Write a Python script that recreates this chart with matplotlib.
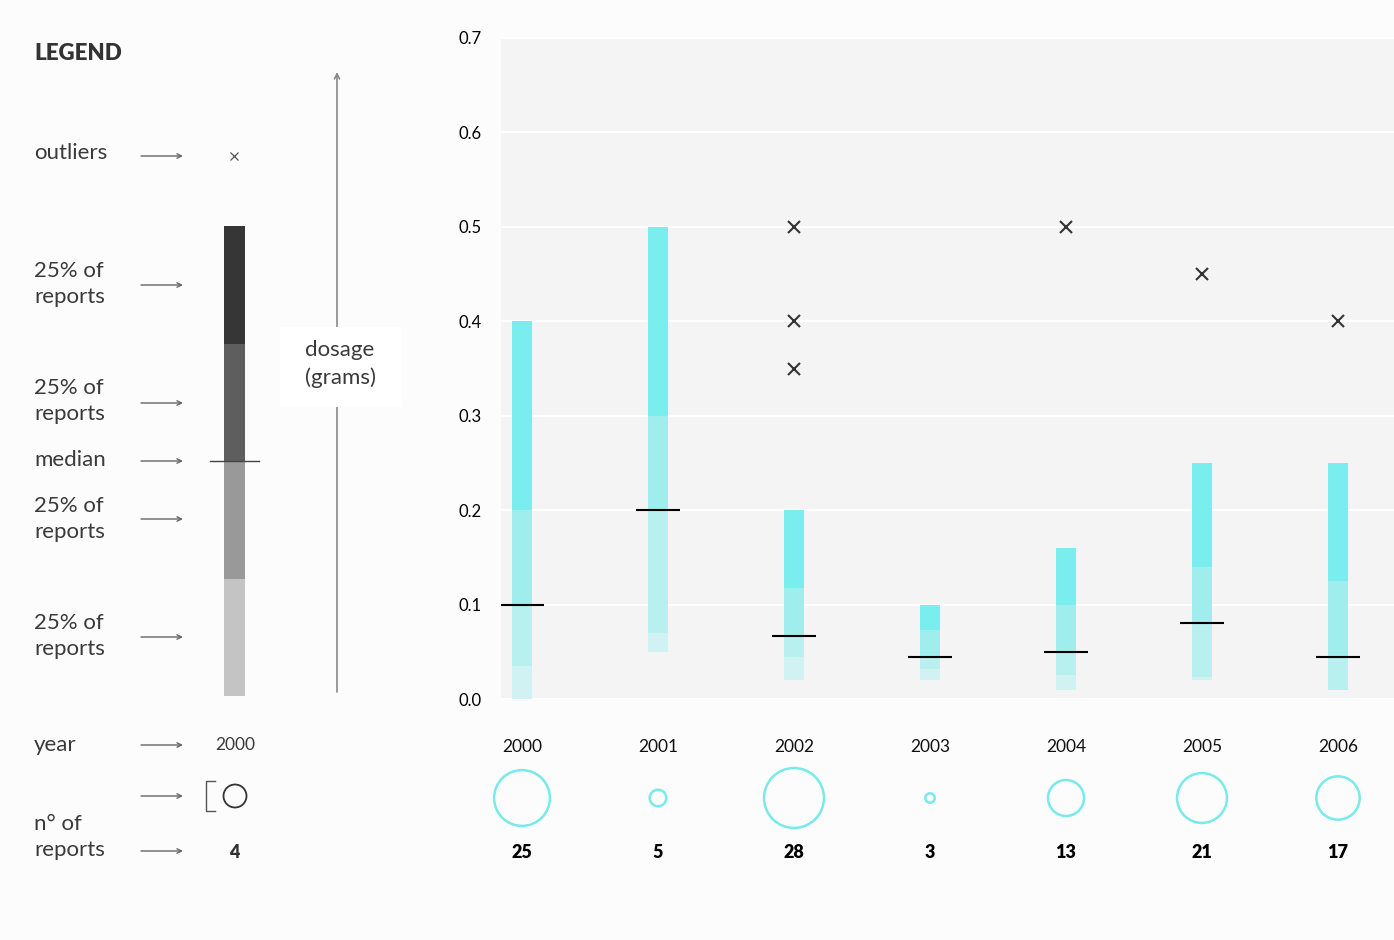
import numpy as np
import matplotlib
matplotlib.use('Agg')
import matplotlib.pyplot as plt
import matplotlib.patches as mpatches

plt.rcParams['font.family'] = ['Lato', 'DejaVu Sans']

# ---- data ------------------------------------------------------------------
years = ['2000', '2001', '2002', '2003', '2004', '2005', '2006']
d_min = [0.000, 0.050, 0.020, 0.020, 0.010, 0.020, 0.010]
d_q1 = [0.035, 0.070, 0.045, 0.032, 0.025, 0.023, 0.010]
d_med = [0.100, 0.200, 0.067, 0.045, 0.050, 0.080, 0.045]
d_q3 = [0.200, 0.300, 0.118, 0.073, 0.100, 0.140, 0.125]
d_max = [0.400, 0.500, 0.200, 0.100, 0.160, 0.250, 0.250]
outliers = {2: [0.5, 0.4, 0.35], 4: [0.5], 5: [0.45], 6: [0.4]}
n_reports = [25, 5, 28, 3, 13, 21, 17]
y_ticks = [0.0, 0.1, 0.2, 0.3, 0.4, 0.5, 0.6, 0.7]

seg_colors = ['#d0f2f2', '#b8efef', '#a0eded', '#7aeeee']
txt = '#3a3a3a'

W, H = 1394, 940
fig = plt.figure(figsize=(W / 100, H / 100), dpi=100, facecolor='#fcfcfc')

# ---- legend panel (pixel coordinates) --------------------------------------
lg = fig.add_axes([0, 0, 1, 1])
lg.set_xlim(0, W)
lg.set_ylim(H, 0)
lg.axis('off')

lg.text(34, 53, 'LEGEND', fontsize=16, fontweight='heavy', color='#333333',
        va='center')

labels = [('outliers', 153), ('25% of\nreports', 284), ('25% of\nreports', 401),
          ('median', 460), ('25% of\nreports', 519), ('25% of\nreports', 636),
          ('year', 745), ('n° of\nreports', 837)]
for s, y in labels:
    lg.text(34, y, s, fontsize=16, color=txt, va='center', linespacing=1.42)

for y in [156, 285, 403, 461, 519, 637, 745, 796, 851]:
    lg.annotate('', xy=(183, y), xytext=(141, y),
                arrowprops=dict(arrowstyle='->', color='#666666', lw=1,
                                mutation_scale=8, shrinkA=0, shrinkB=0))

# grey legend bar
lg_edges = [696, 579, 461, 344, 226]
lg_cols = ['#c4c4c4', '#999999', '#5e5e5e', '#363636']
for i in range(4):
    lg.add_patch(mpatches.Rectangle((224, lg_edges[i + 1]), 21,
                                    lg_edges[i] - lg_edges[i + 1],
                                    color=lg_cols[i], lw=0))
lg.plot([210, 259], [461, 461], color='#444444', lw=1)
lg.plot([234], [156], marker='x', ms=6, mew=0.9, color='#555555')

lg.text(235, 745, '2000', fontsize=12.5, color=txt, ha='center', va='center')
lg.add_patch(mpatches.Circle((235, 796), 11.5, fill=False, ec='#333333', lw=1.3))
lg.plot([215, 206, 206, 215], [781, 781, 811, 811], color='#555555', lw=1)
lg.text(234, 852, '4', fontsize=13, fontweight='heavy', color='#333333',
        ha='center', va='center')

# dosage arrow with label box
lg.annotate('', xy=(337, 72), xytext=(337, 692),
            arrowprops=dict(arrowstyle='->', color='#888888', lw=1.2,
                            mutation_scale=9, shrinkA=0, shrinkB=0))
lg.add_patch(mpatches.Rectangle((280, 327), 122, 80, color='white', lw=0, zorder=3))
lg.text(340, 364, 'dosage\n(grams)', fontsize=16, color=txt,
        ha='center', va='center', linespacing=1.42, zorder=4)

# ---- main chart ------------------------------------------------------------
x = np.arange(len(years))
xl = ((501 - 522) / 136, (1394 - 522) / 136)

ax = fig.add_axes([501 / W, (H - 699) / H, 893 / W, 661 / H])
ax.set_facecolor('#f4f4f4')
ax.set_xlim(*xl)
ax.set_ylim(0, 0.7)
for sp in ax.spines.values():
    sp.set_visible(False)
ax.set_yticks(y_ticks)
ax.set_yticklabels([f'{v:.1f}' for v in y_ticks])
ax.tick_params(axis='y', length=0, pad=14, labelsize=12, labelcolor='black')
ax.set_xticks([])
ax.grid(axis='y', color='white', lw=1.6)
ax.set_axisbelow(True)

stack = [d_min, d_q1, d_med, d_q3, d_max]
for k in range(4):
    lo = np.array(stack[k])
    hi = np.array(stack[k + 1])
    ax.bar(x, hi - lo, bottom=lo, width=0.147, color=seg_colors[k], lw=0, zorder=2)
ax.hlines(d_med, x - 0.165, x + 0.165, color='black', lw=1.5, zorder=3)
for i, vals in outliers.items():
    ax.plot([i] * len(vals), vals, ls='none', marker='x', ms=8.5, mew=1.5,
            color='#333333', zorder=3)

# ---- years, report counts ---------------------------------------------------
bx = fig.add_axes([501 / W, (H - 880) / H, 893 / W, 165 / H])
bx.set_xlim(*xl)
bx.set_ylim(880, 715)
bx.axis('off')
radius = 7.1 * np.sqrt(n_reports) - 7.6
bx.scatter(x, [798] * len(x), s=(2 * radius * 0.72) ** 2, facecolors='none',
           edgecolors='#78eaea', linewidths=1.8, clip_on=False)
for i in x:
    bx.text(i, 747, years[i], fontsize=12.5, color='#111111',
            ha='center', va='center')
    bx.text(i, 852, str(n_reports[i]), fontsize=13, fontweight='heavy',
            color='black', ha='center', va='center')

fig.savefig('out.png', dpi=100, facecolor=fig.get_facecolor())
